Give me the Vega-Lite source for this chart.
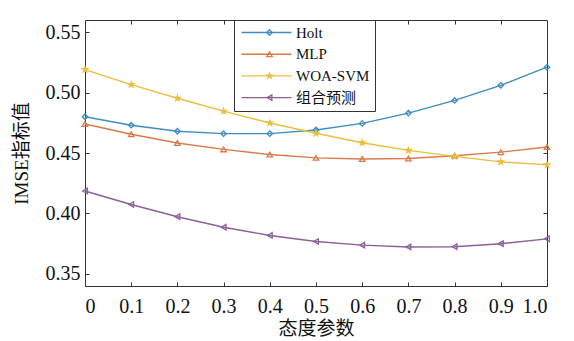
{
  "$schema": "https://vega.github.io/schema/vega-lite/v6.json",
  "autosize": {"type": "none"},
  "padding": {"left": 85, "top": 20, "right": 27, "bottom": 55},
  "width": 462,
  "height": 266,
  "background": "white",
  "config": {
    "font": "Liberation Serif, Noto Sans CJK SC",
    "view": {"stroke": "#333", "strokeWidth": 1},
    "axis": {"grid": false, "domain": false, "tickColor": "#333", "tickSize": -4, "labelColor": "#111", "titleColor": "#111", "labelFont": "Liberation Serif", "labelFontSize": 20, "titleFont": "Liberation Serif, Noto Sans CJK SC", "titleFontSize": 19, "titleFontWeight": "normal"}
  },
  "data": {"values": [
    {"p": 0, "series": "Holt", "v": 0.480}, {"p": 0.1, "series": "Holt", "v": 0.473}, {"p": 0.2, "series": "Holt", "v": 0.468}, {"p": 0.3, "series": "Holt", "v": 0.466}, {"p": 0.4, "series": "Holt", "v": 0.466}, {"p": 0.5, "series": "Holt", "v": 0.469}, {"p": 0.6, "series": "Holt", "v": 0.4745}, {"p": 0.7, "series": "Holt", "v": 0.483}, {"p": 0.8, "series": "Holt", "v": 0.4935}, {"p": 0.9, "series": "Holt", "v": 0.506}, {"p": 1.0, "series": "Holt", "v": 0.521},
    {"p": 0, "series": "MLP", "v": 0.474}, {"p": 0.1, "series": "MLP", "v": 0.4655}, {"p": 0.2, "series": "MLP", "v": 0.4583}, {"p": 0.3, "series": "MLP", "v": 0.453}, {"p": 0.4, "series": "MLP", "v": 0.4487}, {"p": 0.5, "series": "MLP", "v": 0.446}, {"p": 0.6, "series": "MLP", "v": 0.445}, {"p": 0.7, "series": "MLP", "v": 0.4455}, {"p": 0.8, "series": "MLP", "v": 0.4477}, {"p": 0.9, "series": "MLP", "v": 0.4507}, {"p": 1.0, "series": "MLP", "v": 0.455},
    {"p": 0, "series": "WOA-SVM", "v": 0.519}, {"p": 0.1, "series": "WOA-SVM", "v": 0.5066}, {"p": 0.2, "series": "WOA-SVM", "v": 0.4953}, {"p": 0.3, "series": "WOA-SVM", "v": 0.4846}, {"p": 0.4, "series": "WOA-SVM", "v": 0.4748}, {"p": 0.5, "series": "WOA-SVM", "v": 0.4663}, {"p": 0.6, "series": "WOA-SVM", "v": 0.4585}, {"p": 0.7, "series": "WOA-SVM", "v": 0.4522}, {"p": 0.8, "series": "WOA-SVM", "v": 0.4472}, {"p": 0.9, "series": "WOA-SVM", "v": 0.4427}, {"p": 1.0, "series": "WOA-SVM", "v": 0.4402},
    {"p": 0, "series": "组合预测", "v": 0.4186}, {"p": 0.1, "series": "组合预测", "v": 0.4074}, {"p": 0.2, "series": "组合预测", "v": 0.3973}, {"p": 0.3, "series": "组合预测", "v": 0.3886}, {"p": 0.4, "series": "组合预测", "v": 0.3818}, {"p": 0.5, "series": "组合预测", "v": 0.3768}, {"p": 0.6, "series": "组合预测", "v": 0.3738}, {"p": 0.7, "series": "组合预测", "v": 0.3723}, {"p": 0.8, "series": "组合预测", "v": 0.3725}, {"p": 0.9, "series": "组合预测", "v": 0.375}, {"p": 1.0, "series": "组合预测", "v": 0.379}
  ]},
  "resolve": {"axis": {"x": "independent", "y": "independent"}},
  "layer": [
    {
      "mark": {"type": "line", "strokeWidth": 1.4},
      "encoding": {
        "x": {"field": "p", "type": "quantitative", "scale": {"domain": [0, 1]}, "axis": {"title": "态度参数", "values": [0, 0.1, 0.2, 0.3, 0.4, 0.5, 0.6, 0.7, 0.8, 0.9, 1.0], "labelExpr": "datum.value == 0 ? '0' : format(datum.value, '.1f')", "labelPadding": 14, "titlePadding": 3}},
        "y": {"field": "v", "type": "quantitative", "scale": {"domain": [0.35, 0.55]}, "axis": {"title": "IMSE指标值", "values": [0.35, 0.4, 0.45, 0.5, 0.55], "format": ".2f", "labelPadding": 9, "titlePadding": 14}},
        "color": {"field": "series", "type": "nominal", "scale": {"range": ["#3f8dc2", "#d97a4c", "#e8bf3e", "#8c5f98"]},
          "legend": {"title": null, "orient": "none", "legendX": 149, "legendY": 0, "zindex": 1, "symbolType": "M-1,0H9", "symbolSize": 100, "symbolStrokeWidth": 1.4, "labelFont": "Liberation Serif, Noto Sans CJK SC", "labelFontSize": 15, "labelColor": "#111", "labelOffset": 42, "rowPadding": 5.7, "padding": 5, "strokeColor": "#333", "fillColor": "white"}}
      }
    },
    {
      "mark": {"type": "point", "filled": false, "strokeWidth": 1.3, "size": 30, "opacity": 1},
      "encoding": {
        "x": {"field": "p", "type": "quantitative", "axis": null},
        "y": {"field": "v", "type": "quantitative", "axis": null},
        "stroke": {"field": "series", "type": "nominal", "scale": {"domain": ["Holt", "MLP", "WOA-SVM", "组合预测"], "range": ["#3f8dc2", "#d97a4c", "#e8bf3e", "#8c5f98"]},
          "legend": {"title": null, "orient": "none", "legendX": 172, "legendY": 0, "zindex": 2, "labelExpr": "' '", "labelColor": "transparent", "labelFontSize": 15, "labelOffset": 8, "rowPadding": 5.7, "padding": 5, "symbolSize": 30, "symbolStrokeWidth": 1.3, "strokeColor": "transparent", "fillColor": "transparent"}},
        "fill": {"field": "series", "type": "nominal", "scale": {"domain": ["Holt", "MLP", "WOA-SVM", "组合预测"], "range": ["transparent", "transparent", "#e8bf3e", "transparent"]},
          "legend": {"title": null, "orient": "none", "legendX": 172, "legendY": 0, "zindex": 2, "labelExpr": "' '", "labelColor": "transparent", "labelFontSize": 15, "labelOffset": 8, "rowPadding": 5.7, "padding": 5, "symbolSize": 30, "symbolStrokeWidth": 1.3, "strokeColor": "transparent", "fillColor": "transparent"}},
        "shape": {"field": "series", "type": "nominal", "scale": {"domain": ["Holt", "MLP", "WOA-SVM", "组合预测"], "range": ["diamond", "triangle-up", "M0,-1L0.2245,-0.309L0.951,-0.309L0.363,0.118L0.588,0.809L0,0.382L-0.588,0.809L-0.363,0.118L-0.951,-0.309L-0.2245,-0.309Z", "triangle-left"]},
          "legend": {"title": null, "orient": "none", "legendX": 172, "legendY": 0, "zindex": 2, "labelExpr": "' '", "labelColor": "transparent", "labelFontSize": 15, "labelOffset": 8, "rowPadding": 5.7, "padding": 5, "symbolSize": 30, "symbolStrokeWidth": 1.3, "strokeColor": "transparent", "fillColor": "transparent"}}
      }
    },
    {
      "mark": {"type": "point", "opacity": 0},
      "encoding": {
        "x": {"field": "p", "type": "quantitative", "axis": {"orient": "top", "title": null, "labels": false, "values": [0.1, 0.2, 0.3, 0.4, 0.5, 0.6, 0.7, 0.8, 0.9]}},
        "y": {"field": "v", "type": "quantitative", "axis": {"orient": "right", "title": null, "labels": false, "values": [0.4, 0.45, 0.5]}}
      }
    }
  ]
}
